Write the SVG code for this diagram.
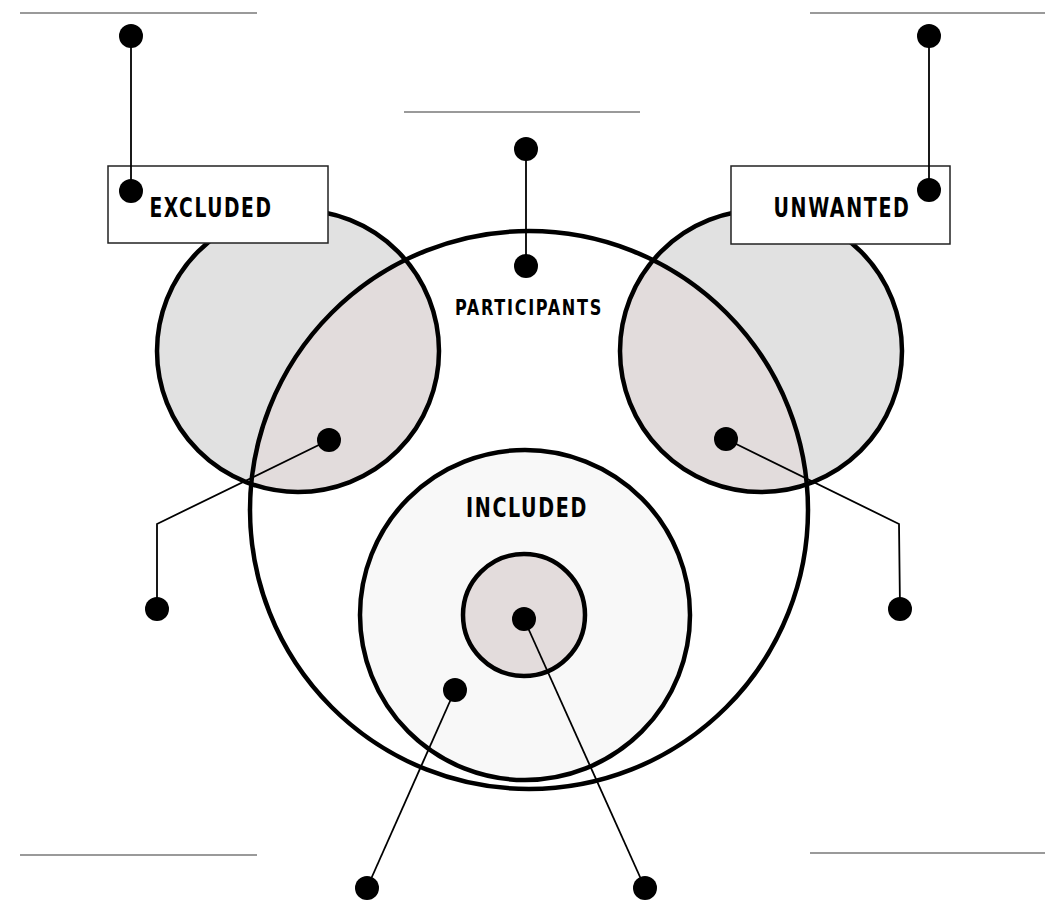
<svg xmlns="http://www.w3.org/2000/svg" width="1045" height="902" viewBox="0 0 1045 902">
<style>
.rule{stroke:#9a9a9a;stroke-width:2;fill:none}
.ring{stroke:#000;stroke-width:4.5}
.nofill{fill:none}
.conn{stroke:#000;stroke-width:1.8;fill:none}
.dot{fill:#000}
.box{fill:#fff;stroke:#222;stroke-width:1.5}
.lbl{font-family:"DejaVu Sans Condensed","DejaVu Sans",sans-serif;font-weight:bold;fill:#000;letter-spacing:2px}
</style>
<defs>
<clipPath id="clipP"><circle cx="529" cy="510" r="279"/></clipPath>
</defs>
<rect width="1045" height="902" fill="#fff"/>
<g id="rules">
<line class="rule" x1="20" y1="13" x2="257" y2="13"/>
<line class="rule" x1="810" y1="13" x2="1045" y2="13"/>
<line class="rule" x1="404" y1="112" x2="640" y2="112"/>
<line class="rule" x1="20" y1="855" x2="257" y2="855"/>
<line class="rule" x1="810" y1="853" x2="1045" y2="853"/>
</g>
<g id="participants">
<circle cx="529" cy="510" r="279" fill="#fff"/>
</g>
<g id="excluded">
<circle cx="298" cy="351" r="141" fill="#e1e1e1"/>
<circle cx="298" cy="351" r="141" fill="#e2dcdc" clip-path="url(#clipP)"/>
</g>
<g id="unwanted">
<circle cx="761" cy="351" r="141" fill="#e1e1e1"/>
<circle cx="761" cy="351" r="141" fill="#e2dcdc" clip-path="url(#clipP)"/>
</g>
<g id="rings">
<circle class="ring nofill" cx="298" cy="351" r="141"/>
<circle class="ring nofill" cx="761" cy="351" r="141"/>
<circle class="ring nofill" cx="529" cy="510" r="279"/>
</g>
<g id="included">
<circle class="ring" cx="525" cy="615" r="165" style="fill:#f8f8f8"/>
<text class="lbl" x="527" y="517" font-size="26" text-anchor="middle" textLength="122" lengthAdjust="spacingAndGlyphs">INCLUDED</text>
</g>
<g id="core">
<circle class="ring" cx="524" cy="615" r="61" style="fill:#e3dcdc"/>
</g>
<g id="participants-label">
<text class="lbl" x="529" y="315" font-size="21" text-anchor="middle" textLength="148" lengthAdjust="spacingAndGlyphs">PARTICIPANTS</text>
</g>
<g id="excluded-label">
<rect class="box" x="108" y="166" width="220" height="77"/>
<text class="lbl" x="211" y="217" font-size="26" text-anchor="middle" textLength="123" lengthAdjust="spacingAndGlyphs">EXCLUDED</text>
</g>
<g id="unwanted-label">
<rect class="box" x="731" y="166" width="219" height="78"/>
<text class="lbl" x="842" y="217" font-size="26" text-anchor="middle" textLength="137" lengthAdjust="spacingAndGlyphs">UNWANTED</text>
</g>
<g id="connectors">
<polyline class="conn" points="131,36 131,191"/>
<polyline class="conn" points="929,36 929,190"/>
<polyline class="conn" points="526,149 526,266"/>
<polyline class="conn" points="329,440 157,524 157,609"/>
<polyline class="conn" points="726,439 899,524 900,609"/>
<polyline class="conn" points="455,690 367,888"/>
<polyline class="conn" points="524,619 645,888"/>
</g>
<g id="dots">
<circle class="dot" cx="131" cy="36" r="12"/>
<circle class="dot" cx="131" cy="191" r="12"/>
<circle class="dot" cx="929" cy="36" r="12"/>
<circle class="dot" cx="929" cy="190" r="12"/>
<circle class="dot" cx="526" cy="149" r="12"/>
<circle class="dot" cx="526" cy="266" r="12"/>
<circle class="dot" cx="329" cy="440" r="12"/>
<circle class="dot" cx="157" cy="609" r="12"/>
<circle class="dot" cx="726" cy="439" r="12"/>
<circle class="dot" cx="900" cy="609" r="12"/>
<circle class="dot" cx="455" cy="690" r="12"/>
<circle class="dot" cx="367" cy="888" r="12"/>
<circle class="dot" cx="524" cy="619" r="12"/>
<circle class="dot" cx="645" cy="888" r="12"/>
</g>
</svg>
